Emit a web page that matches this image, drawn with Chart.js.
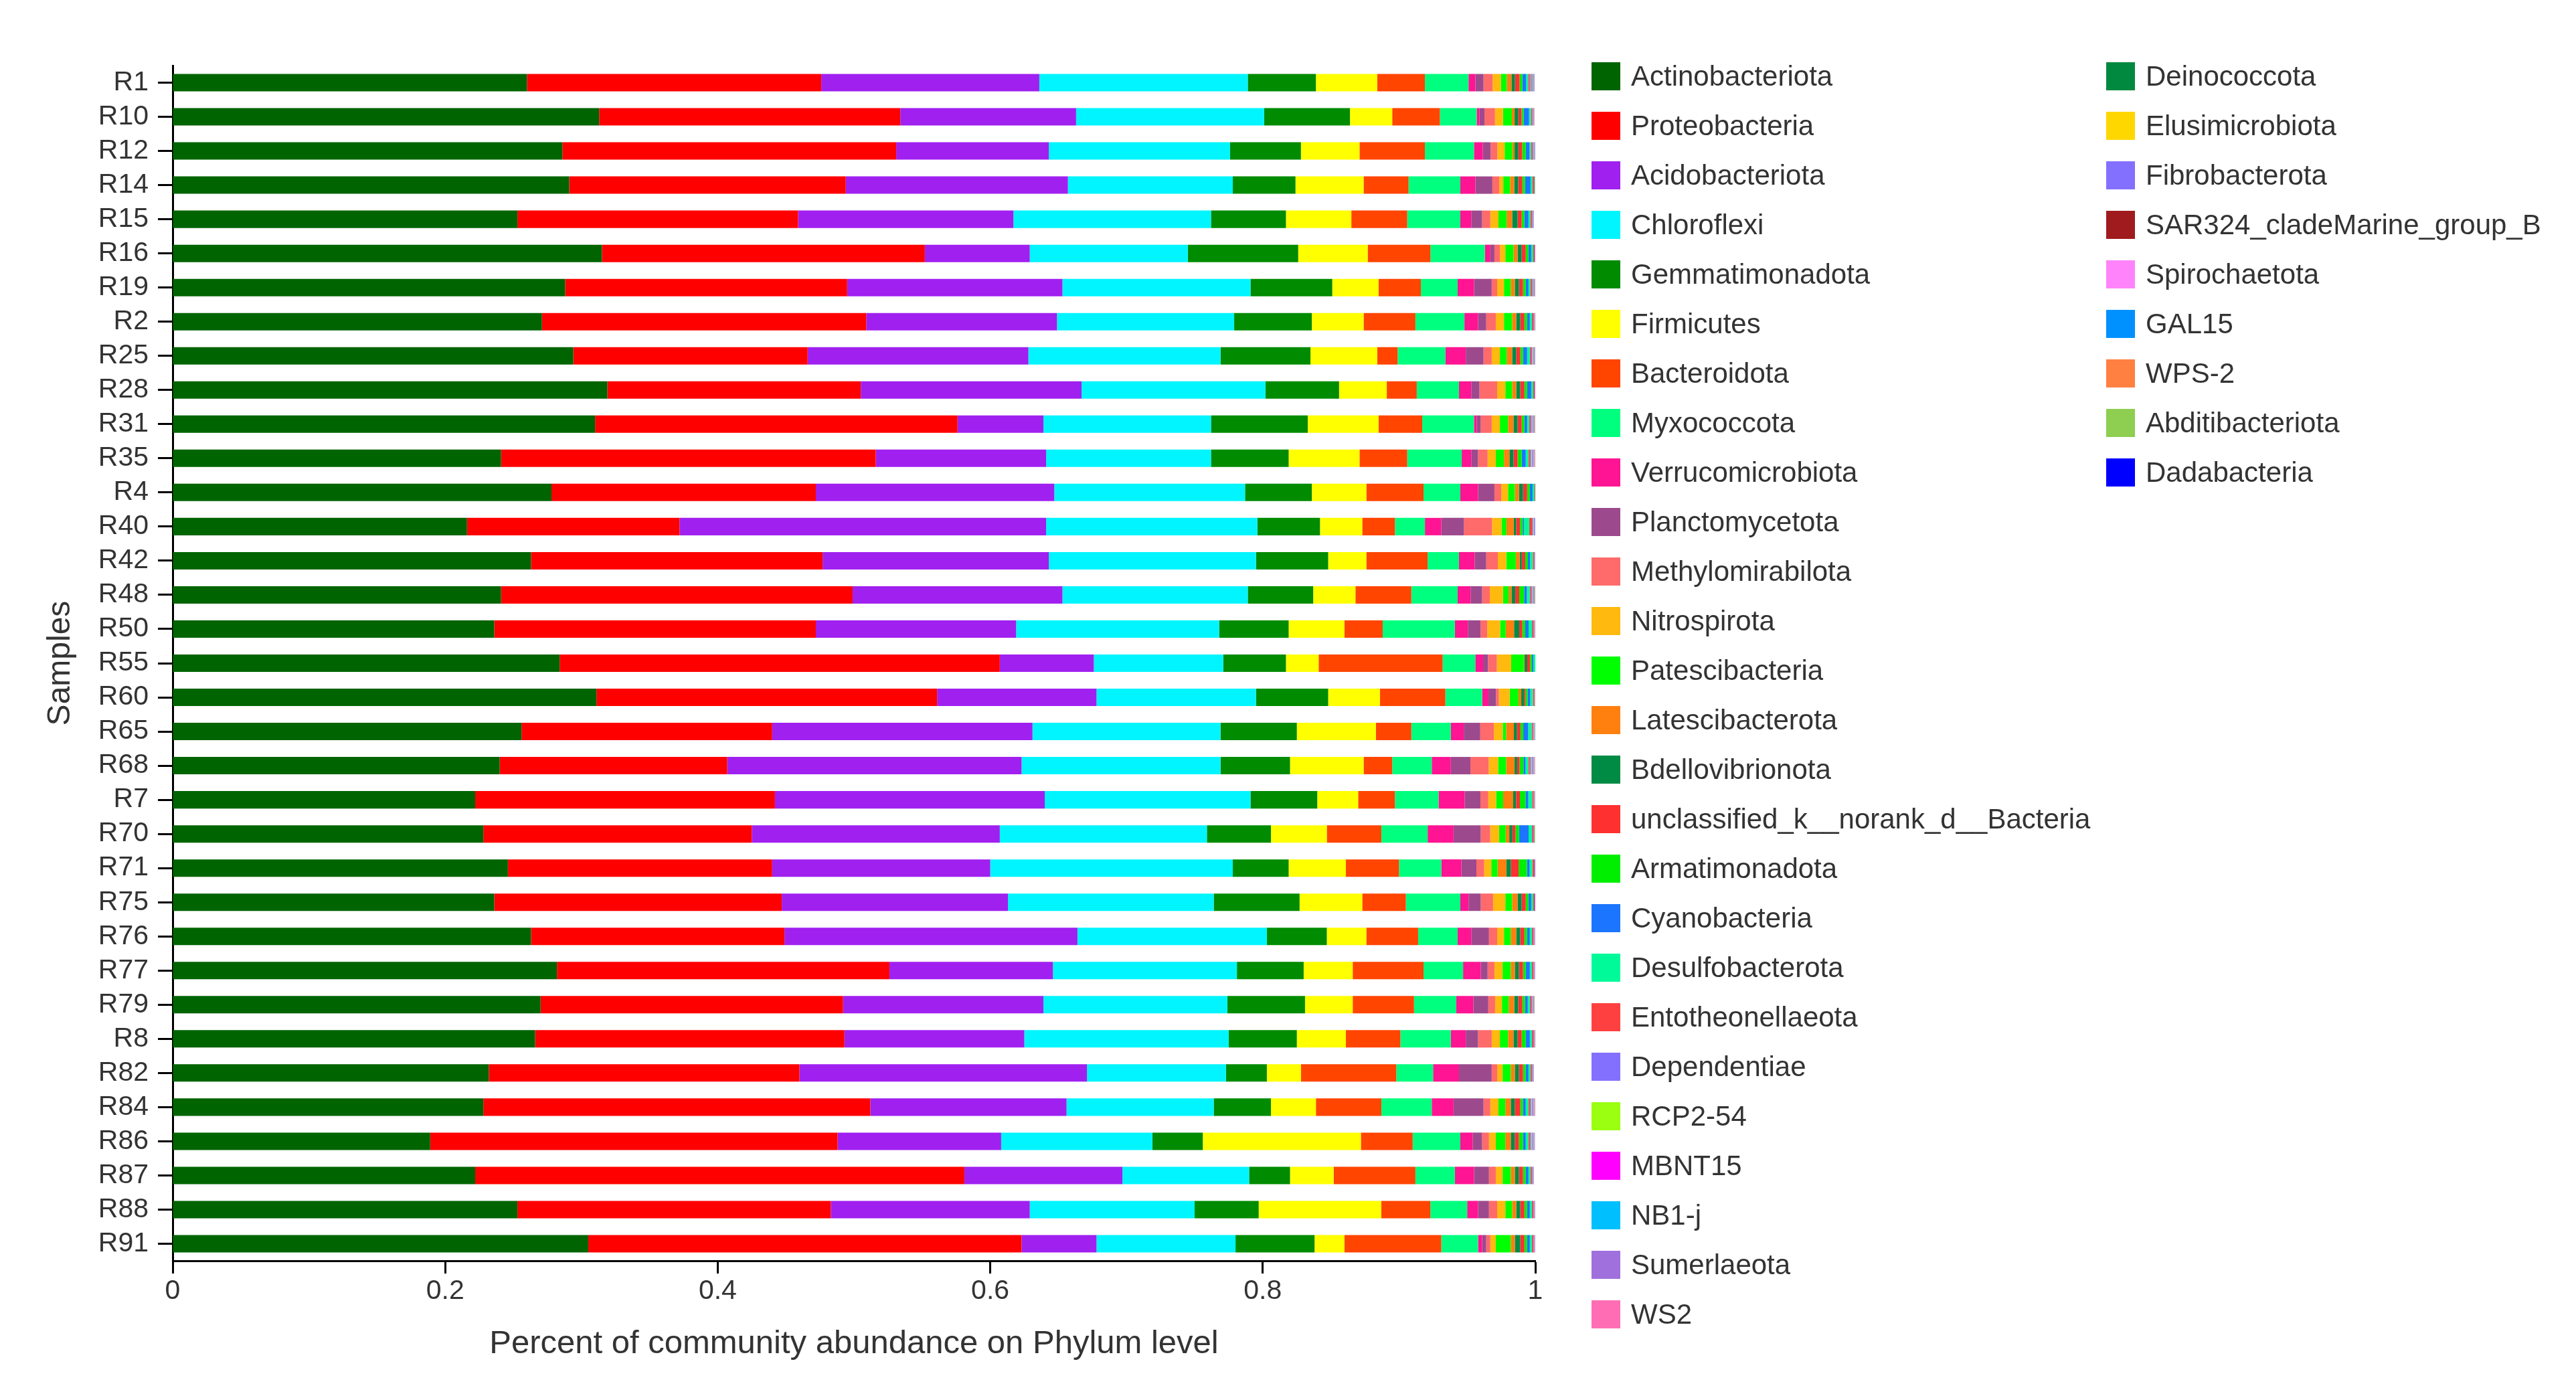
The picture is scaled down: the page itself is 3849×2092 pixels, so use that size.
<!DOCTYPE html>
<html>
<head>
<meta charset="utf-8">
<script src="https://cdn.jsdelivr.net/npm/chart.js@4.4.1/dist/chart.umd.min.js"></script>
<style>
  html, body { margin: 0; padding: 0; background: #fff; }
  #wrap { position: relative; width: 3849px; height: 2092px; }
  #phylumchart { position: absolute; left: 0; top: 0; }
  .lg-item { position: absolute; height: 74px; display: flex; align-items: center;
    font-family: 'Liberation Sans', Arial, sans-serif; font-size: 42px; color: #333; white-space: nowrap; }
  .lg-box { width: 43px; height: 42px; margin-right: 16px; flex: none; }
</style>
</head>
<body>
<div id="wrap">
  <canvas id="phylumchart" width="3849" height="2092"></canvas>
  <div id="legend"></div>
</div>
<script>
var samples = ["R1", "R10", "R12", "R14", "R15", "R16", "R19", "R2", "R25", "R28", "R31", "R35", "R4", "R40", "R42", "R48", "R50", "R55", "R60", "R65", "R68", "R7", "R70", "R71", "R75", "R76", "R77", "R79", "R8", "R82", "R84", "R86", "R87", "R88", "R91"];

var phyla = ["Actinobacteriota", "Proteobacteria", "Acidobacteriota", "Chloroflexi", "Gemmatimonadota", "Firmicutes",
  "Bacteroidota", "Myxococcota", "Verrucomicrobiota", "Planctomycetota", "Methylomirabilota", "Nitrospirota",
  "Patescibacteria", "Latescibacterota", "Bdellovibrionota", "unclassified_k__norank_d__Bacteria", "Armatimonadota",
  "Cyanobacteria", "Desulfobacterota", "Entotheonellaeota", "Dependentiae", "RCP2-54", "MBNT15", "NB1-j", "Sumerlaeota",
  "WS2", "Deinococcota", "Elusimicrobiota", "Fibrobacterota", "SAR324_cladeMarine_group_B", "Spirochaetota", "GAL15",
  "WPS-2", "Abditibacteriota", "Dadabacteria"];

var colors = ["#006400", "#FF0000", "#A020F0", "#00F5FF", "#008B00", "#FFFF00", "#FF4500", "#00FF7F", "#FF1493",
  "#9C4A8D", "#FF6A6A", "#FFB90F", "#00FF00", "#FF7F0F", "#008B45", "#FF3030", "#00EE00", "#1C75FF", "#00FA9A",
  "#FF4040", "#8470FF", "#9AFF10", "#FF00FF", "#00BFFF", "#A070DD", "#FF6EB4", "#00893F", "#FFD700", "#8470FF",
  "#A01B1E", "#FF83FA", "#0091FF", "#FF8040", "#8ECE50", "#0000FF"];

var xTickLabels = ["0", "0.2", "0.4", "0.6", "0.8", "1"];

// relative abundance per phylum, one value per sample (same order as samples)
var actinobacteriota = [.260, .313, .286, .291, .253, .315, .288, .271, .294, .319, .310, .241, .278, .216, .263, .241, .236, .284, .311, .256, .240, .222, .228, .246, .236, .263, .282, .270, .266, .232, .228, .189, .222, .253, .305];
var proteobacteria = [.216, .221, .245, .203, .206, .237, .207, .238, .172, .186, .266, .275, .194, .156, .214, .258, .236, .323, .250, .184, .167, .220, .197, .194, .211, .186, .244, .222, .227, .228, .284, .299, .359, .230, .318];
var acidobacteriota = [.160, .129, .112, .163, .158, .077, .158, .140, .162, .162, .063, .125, .175, .269, .166, .154, .147, .069, .117, .191, .216, .198, .182, .160, .166, .215, .120, .147, .132, .211, .144, .120, .116, .146, .055];
var chloroflexi = [.153, .138, .133, .121, .145, .116, .138, .130, .141, .135, .123, .121, .140, .155, .152, .136, .149, .095, .117, .138, .146, .151, .152, .178, .151, .139, .135, .135, .150, .102, .108, .111, .093, .121, .102];
var gemmatimonadota = [.050, .063, .052, .046, .055, .081, .060, .057, .066, .054, .071, .057, .049, .046, .053, .048, .051, .046, .053, .056, .051, .049, .047, .041, .063, .044, .049, .057, .050, .030, .042, .037, .030, .047, .058];
var firmicutes = [.045, .031, .043, .050, .048, .051, .034, .038, .049, .035, .052, .052, .040, .031, .028, .031, .041, .024, .038, .058, .054, .030, .041, .042, .046, .029, .036, .035, .036, .025, .033, .116, .032, .090, .022];
var bacteroidota = [.035, .035, .048, .033, .041, .046, .031, .038, .015, .022, .032, .035, .042, .024, .045, .041, .028, .091, .048, .026, .021, .027, .040, .039, .032, .038, .052, .045, .040, .070, .048, .038, .060, .036, .071];
var myxococcota = [.032, .027, .036, .038, .039, .040, .027, .036, .035, .031, .038, .040, .027, .022, .023, .034, .053, .024, .027, .029, .029, .032, .034, .031, .040, .029, .029, .031, .037, .027, .037, .035, .029, .027, .027];
var verrucomicrobiota = [.005, .0021, .0065, .011, .008, .004, .012, .010, .015, .009, .002, .007, .013, .012, .0115, .0095, .0095, .0057, .0046, .0095, .014, .0192, .019, .0147, .006, .010, .013, .0125, .011, .019, .016, .009, .014, .008, .003];
var planctomycetota = [.006, .0036, .0057, .0125, .008, .003, .013, .006, .013, .006, .003, .005, .012, .0167, .0085, .0085, .0093, .0036, .0056, .0121, .0144, .0116, .020, .0111, .009, .013, .005, .011, .009, .024, .022, .007, .011, .008, .003];
var methylomirabilota = [.0067, .0077, .0049, .005, .006, .004, .004, .007, .006, .013, .008, .007, .005, .0206, .0085, .0056, .0049, .0065, .0021, .010, .0134, .0057, .0069, .0057, .009, .006, .005, .005, .010, .004, .005, .005, .005, .006, .003];
var nitrospirota = [.006, .0059, .0054, .003, .006, .004, .005, .006, .006, .006, .006, .006, .005, .0069, .0062, .0097, .0095, .0105, .0079, .0065, .0069, .0057, .0065, .0052, .009, .005, .006, .005, .006, .004, .006, .005, .005, .006, .004];
var patescibacteria = [.0044, .0065, .0057, .005, .006, .006, .005, .006, .005, .005, .006, .006, .005, .0036, .007, .0041, .0041, .0093, .0065, .0025, .0059, .0052, .0049, .0046, .005, .005, .006, .005, .006, .006, .005, .007, .006, .005, .011];
var latescibacterota = [.0034, .002, .0016, .003, .004, .003, .003, .003, .004, .003, .004, .004, .003, .0054, .0028, .0021, .0061, .0005, .002, .0057, .0061, .0074, .0026, .0065, .004, .004, .003, .004, .004, .003, .004, .004, .003, .003, .003];
var bdellovibrionota = [.0026, .0028, .0028, .003, .004, .003, .003, .003, .003, .003, .003, .003, .003, .0018, .0016, .0028, .0038, .002, .002, .0023, .002, .0021, .0023, .0033, .003, .003, .003, .003, .003, .003, .003, .003, .003, .003, .004];
var unclassifiedBacteria = [.0034, .0023, .0028, .003, .003, .003, .003, .003, .003, .003, .003, .003, .003, .0028, .0025, .0029, .0023, .0021, .001, .0025, .0018, .0028, .0023, .0057, .003, .003, .003, .003, .003, .003, .004, .003, .003, .003, .003];
var armatimonadota = [.002, .0015, .0026, .002, .002, .002, .002, .002, .002, .002, .002, .003, .002, .002, .002, .0036, .0021, .0013, .0016, .0021, .0028, .0041, .0026, .0061, .002, .002, .002, .002, .003, .002, .002, .003, .002, .002, .002];
var cyanobacteria = [.0028, .004, .0028, .004, .003, .002, .002, .002, .003, .003, .002, .003, .002, .001, .0016, .002, .0025, .001, .002, .0036, .0016, .0021, .007, .002, .002, .002, .003, .002, .003, .002, .002, .002, .002, .002, .002];
var desulfobacterota = [.0015, .0015, .0011, .0015, .0015, .0015, .0015, .0015, .002, .0015, .0015, .002, .0015, .0038, .002, .0021, .0025, .0028, .002, .0025, .002, .0028, .0025, .002, .0015, .0015, .0015, .0015, .0015, .0015, .002, .002, .0015, .0015, .0015];
var entotheonellaeota = [.001, .001, .001, .001, .001, .001, .001, .001, .001, .001, .001, .001, .001, .002, .001, .001, .001, .0005, .001, .001, .001, .001, .001, .0015, .001, .001, .001, .001, .001, .001, .001, .001, .001, .001, .001];
var dependentiae = [.0008, .0004, .0008, .0006, .0004, .0004, .0006, .0006, .0008, .0004, .0008, .0009, .0004, .0008, .0006, .0008, .0006, .0004, .0004, .0006, .0009, .0006, .0008, .0006, .0006, .0004, .0004, .0006, .0006, .0004, .0009, .0008, .0004, .0004, .0004];
var rcp254 = [.0005, .0002, .0005, .0004, .0002, .0002, .0004, .0004, .0005, .0002, .0005, .0005, .0002, .0005, .0004, .0005, .0004, .0002, .0002, .0004, .0005, .0004, .0005, .0004, .0004, .0002, .0002, .0004, .0004, .0002, .0005, .0005, .0002, .0002, .0002];
var mbnt15 = [.0004, .0002, .0004, .0003, .0002, .0002, .0003, .0003, .0004, .0002, .0004, .0004, .0002, .0004, .0003, .0004, .0003, .0002, .0002, .0003, .0004, .0003, .0004, .0003, .0003, .0002, .0002, .0003, .0003, .0002, .0004, .0004, .0002, .0002, .0002];
var nb1j = [.0004, .0002, .0003, .0003, .0002, .0002, .0003, .0003, .0004, .0002, .0004, .0004, .0002, .0004, .0003, .0004, .0003, .0002, .0002, .0003, .0004, .0003, .0004, .0003, .0003, .0002, .0002, .0003, .0003, .0002, .0004, .0004, .0002, .0002, .0002];
var sumerlaeota = [.0003, .0002, .0003, .0003, .0002, .0002, .0003, .0003, .0003, .0002, .0003, .0004, .0002, .0003, .0003, .0003, .0003, .0002, .0002, .0003, .0004, .0003, .0003, .0003, .0003, .0002, .0002, .0003, .0003, .0002, .0004, .0003, .0002, .0002, .0002];
var ws2 = [.0003, .0001, .0003, .0002, .0001, .0001, .0002, .0002, .0003, .0001, .0003, .0003, .0001, .0003, .0002, .0003, .0002, .0001, .0001, .0002, .0003, .0002, .0003, .0002, .0002, .0001, .0001, .0002, .0002, .0001, .0003, .0003, .0001, .0001, .0001];
var deinococcota = [.0002, .0001, .0002, .0001, .0001, .0001, .0001, .0001, .0002, .0001, .0002, .0002, .0001, .0002, .0001, .0002, .0001, .0001, .0001, .0001, .0002, .0001, .0002, .0001, .0001, .0001, .0001, .0001, .0001, .0001, .0002, .0002, .0001, .0001, .0001];
var elusimicrobiota = [.0002, .0001, .0002, .0001, .0001, .0001, .0001, .0001, .0002, .0001, .0002, .0002, .0001, .0002, .0001, .0002, .0001, .0001, .0001, .0001, .0002, .0001, .0002, .0001, .0001, .0001, .0001, .0001, .0001, .0001, .0002, .0002, .0001, .0001, .0001];
var fibrobacterota = [.0001, 0, .0001, .0001, 0, 0, .0001, .0001, .0001, 0, .0001, .0002, 0, .0001, .0001, .0001, .0001, 0, 0, .0001, .0002, .0001, .0001, .0001, .0001, 0, 0, .0001, .0001, 0, .0002, .0001, 0, 0, 0];
var sar324 = [.0001, 0, .0001, .0001, 0, 0, .0001, .0001, .0001, 0, .0001, .0001, 0, .0001, .0001, .0001, .0001, 0, 0, .0001, .0001, .0001, .0001, .0001, .0001, 0, 0, .0001, .0001, 0, .0001, .0001, 0, 0, 0];
var spirochaetota = [.0001, 0, .0001, 0, 0, 0, 0, 0, .0001, 0, .0001, .0002, 0, .0001, 0, .0001, 0, 0, 0, 0, .0002, 0, .0001, 0, 0, 0, 0, 0, 0, 0, .0003, .0001, 0, 0, 0];
var gal15 = [.0001, 0, .0001, 0, 0, 0, 0, 0, .0001, 0, .0001, .0001, 0, .0001, 0, .0001, 0, 0, 0, 0, .0001, 0, .0001, 0, 0, 0, 0, 0, 0, 0, .0001, .0001, 0, 0, 0];
var wps2 = [0, 0, 0, 0, 0, 0, 0, 0, 0, 0, 0, .0001, 0, 0, 0, 0, 0, 0, 0, 0, .0001, 0, 0, 0, 0, 0, 0, 0, 0, 0, .0001, 0, 0, 0, 0];
var abditibacteriota = [0, 0, 0, 0, 0, 0, 0, 0, 0, 0, 0, .0001, 0, 0, 0, 0, 0, 0, 0, 0, .0001, 0, 0, 0, 0, 0, 0, 0, 0, 0, .0001, 0, 0, 0, 0];
var dadabacteria = [.0001, 0, .0001, 0, 0, 0, 0, 0, .0001, .0005, .0001, .0001, 0, .0001, 0, .0001, 0, 0, 0, 0, .0001, 0, .0001, 0, 0, 0, 0, 0, 0, 0, .0001, .0001, 0, 0, 0];

var series = [actinobacteriota, proteobacteria, acidobacteriota, chloroflexi, gemmatimonadota, firmicutes,
  bacteroidota, myxococcota, verrucomicrobiota, planctomycetota, methylomirabilota, nitrospirota,
  patescibacteria, latescibacterota, bdellovibrionota, unclassifiedBacteria, armatimonadota, cyanobacteria,
  desulfobacterota, entotheonellaeota, dependentiae, rcp254, mbnt15, nb1j, sumerlaeota, ws2, deinococcota,
  elusimicrobiota, fibrobacterota, sar324, spirochaetota, gal15, wps2, abditibacteriota, dadabacteria];

var fontFamily = "'Liberation Sans', Arial, Helvetica, sans-serif";
Chart.defaults.font.family = fontFamily;
Chart.defaults.color = '#333333';

var datasets = phyla.map(function (name, i) {
    return {
        label: name,
        data: series[i],
        backgroundColor: colors[i],
        borderWidth: 0,
        categoryPercentage: 1.0,
        barPercentage: 0.51
    };
});

var ctx = document.getElementById('phylumchart').getContext('2d');
var chart = new Chart(ctx, {
    type: 'bar',
    data: {
        labels: samples,
        datasets: datasets
    },
    options: {
        indexAxis: 'y',
        responsive: false,
        devicePixelRatio: 1,
        animation: false,
        layout: {
            padding: { top: 98, right: 1555, bottom: 0, left: 0 }
        },
        plugins: {
            legend: { display: false },
            tooltip: { enabled: false }
        },
        scales: {
            x: {
                stacked: true,
                min: 0,
                max: 1,
                afterFit: function (scale) { scale.height = 208; },
                border: { display: true, color: '#000', width: 3 },
                grid: {
                    drawOnChartArea: false,
                    drawTicks: true,
                    tickLength: 19,
                    tickWidth: 3,
                    tickColor: '#000'
                },
                ticks: {
                    stepSize: 0.2,
                    autoSkip: false,
                    maxRotation: 0,
                    padding: 2,
                    color: '#333',
                    font: { size: 41 },
                    callback: function (value, index) { return xTickLabels[index]; }
                },
                title: {
                    display: true,
                    text: 'Percent of community abundance on Phylum level',
                    color: '#333',
                    font: { size: 49 },
                    padding: { top: 0, bottom: 54 }
                }
            },
            y: {
                stacked: true,
                afterFit: function (scale) { scale.width = 258; },
                border: { display: true, color: '#000', width: 3 },
                grid: {
                    offset: false,
                    drawOnChartArea: false,
                    drawTicks: true,
                    tickLength: 22,
                    tickWidth: 3,
                    tickColor: '#000'
                },
                ticks: {
                    autoSkip: false,
                    padding: 14,
                    color: '#333',
                    font: { size: 41 }
                },
                title: {
                    display: true,
                    text: 'Samples',
                    color: '#333',
                    font: { size: 48 },
                    padding: { top: 62, bottom: 0 }
                }
            }
        }
    }
});

// legend in two columns, built from the same names and colours
var legend = document.getElementById('legend');
phyla.forEach(function (name, i) {
    var col = i < 26 ? 0 : 1;
    var row = col === 0 ? i : i - 26;
    var item = document.createElement('div');
    item.className = 'lg-item';
    item.style.left = (col === 0 ? 2378 : 3147) + 'px';
    item.style.top = (114 + row * 74 - 37) + 'px';
    var box = document.createElement('span');
    box.className = 'lg-box';
    box.style.background = colors[i];
    var txt = document.createElement('span');
    txt.textContent = name;
    item.appendChild(box);
    item.appendChild(txt);
    legend.appendChild(item);
});
</script>
</body>
</html>
